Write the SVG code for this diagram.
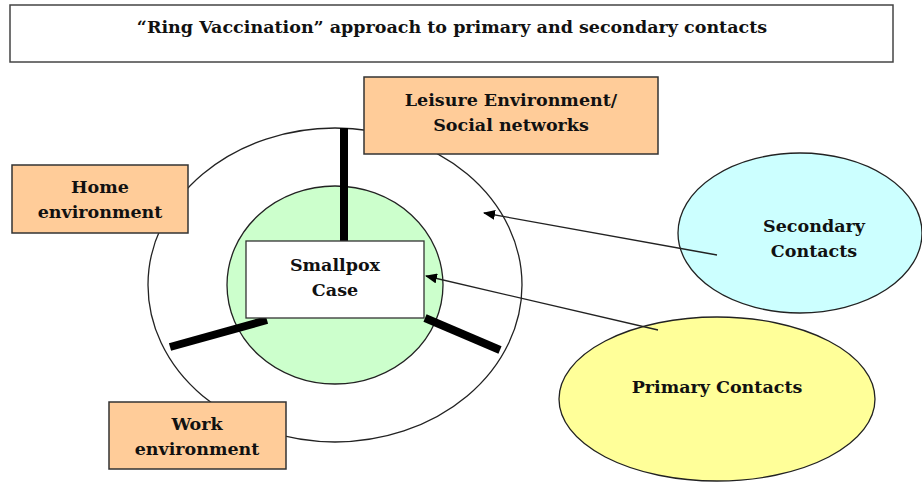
<svg xmlns="http://www.w3.org/2000/svg" width="922" height="482" viewBox="0 0 922 482">
<style>
.t{font-family:"DejaVu Serif","Liberation Serif",serif;font-weight:bold;font-size:17.5px;fill:#111;text-anchor:middle}
.box{fill:#FFCC99;stroke:#333;stroke-width:1.5}
.thick{stroke:#000;stroke-width:8;fill:none}
.conn{stroke:#222;stroke-width:1.3;fill:none}
</style>
<defs>
<marker id="ah" markerWidth="12" markerHeight="10" refX="11" refY="5" orient="auto" markerUnits="userSpaceOnUse">
<path d="M0,0 L12,5 L0,10 z" fill="#000"/>
</marker>
</defs>
<rect width="922" height="482" fill="#fff"/>
<g id="title">
<rect x="10" y="5" width="883" height="57" fill="#fff" stroke="#444" stroke-width="1.5"/>
<text class="t" x="452" y="33">“Ring Vaccination” approach to primary and secondary contacts</text>
</g>
<g id="outer-ring">
<ellipse cx="335" cy="285" rx="187" ry="157" fill="none" stroke="#222" stroke-width="1.3"/>
</g>
<g id="inner-ring">
<ellipse cx="335" cy="285" rx="108" ry="99" fill="#CCFFCC" stroke="#222" stroke-width="1.3"/>
</g>
<g id="spokes">
<line class="thick" x1="344" y1="128" x2="344" y2="242"/>
<line class="thick" x1="267" y1="320" x2="170" y2="347"/>
<line class="thick" x1="425" y1="318" x2="500" y2="350"/>
</g>
<g id="smallpox">
<rect x="246" y="241" width="178" height="77" fill="#fff" stroke="#333" stroke-width="1.3"/>
<text class="t" x="335" y="271">Smallpox</text>
<text class="t" x="335" y="296">Case</text>
</g>
<g id="leisure">
<rect class="box" x="364" y="77" width="294" height="77"/>
<text class="t" x="511" y="106">Leisure Environment/</text>
<text class="t" x="511" y="131">Social networks</text>
</g>
<g id="home">
<rect class="box" x="12" y="165" width="176" height="68"/>
<text class="t" x="100" y="193">Home</text>
<text class="t" x="100" y="218">environment</text>
</g>
<g id="work">
<rect class="box" x="109" y="402" width="177" height="67"/>
<text class="t" x="197" y="430">Work</text>
<text class="t" x="197" y="455">environment</text>
</g>
<g id="secondary">
<ellipse cx="800" cy="233" rx="122" ry="80" fill="#CCFFFF" stroke="#222" stroke-width="1.3"/>
<text class="t" x="814" y="232">Secondary</text>
<text class="t" x="814" y="257">Contacts</text>
</g>
<g id="primary">
<ellipse cx="717" cy="399" rx="158" ry="82" fill="#FFFF99" stroke="#222" stroke-width="1.3"/>
<text class="t" x="717" y="393">Primary Contacts</text>
</g>
<g id="connectors">
<line class="conn" x1="717" y1="255" x2="484" y2="213" marker-end="url(#ah)"/>
<line class="conn" x1="658" y1="330" x2="426" y2="276" marker-end="url(#ah)"/>
</g>
</svg>
